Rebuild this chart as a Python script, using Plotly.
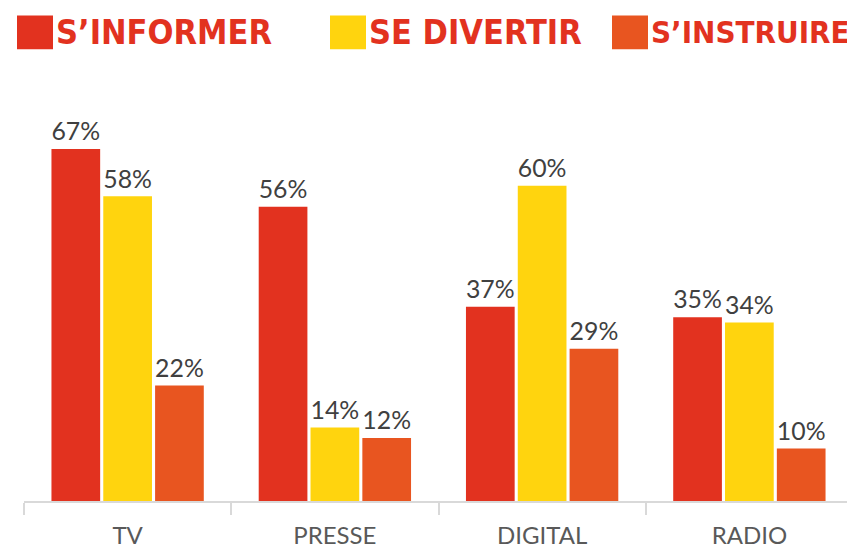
import plotly.graph_objects as go

categories = ["TV", "PRESSE", "DIGITAL", "RADIO"]
series_names = ["S\u2019INFORMER", "SE DIVERTIR", "S\u2019INSTRUIRE"]
s_informer = [67, 56, 37, 35]
se_divertir = [58, 14, 60, 34]
s_instruire = [22, 12, 29, 10]
series_values = [s_informer, se_divertir, s_instruire]
colors = ["#E2321F", "#FFD40E", "#E85520"]

OFF = 8  # page body margin
W, H = 855 - OFF, 551 - OFF
ML, MR, MT, MB = 24 - OFF, 2, 107 - OFF, 48
PW, PH = W - ML - MR, H - MT - MB


def px_x(p):
    return (p - OFF - ML) / PW


def px_y(p):
    return (H - MB - (p - OFF)) / PH


fig = go.Figure()
for name, vals, col in zip(series_names, series_values, colors):
    fig.add_trace(go.Bar(
        x=categories, y=vals, name=name,
        marker=dict(color=col, line=dict(width=0)),
        text=[f"{v}%" for v in vals], textposition="outside",
        textfont=dict(family="Lato, sans-serif", size=26, color="#404040"),
        cliponaxis=False, showlegend=False,
    ))

# manual legend (large squares + bold condensed text)
leg_sq_x = [17, 330, 612]
leg_sizes = [34, 34, 31]
for name, col, sx, fs in zip(series_names, colors, leg_sq_x, leg_sizes):
    fig.add_shape(type="rect", xref="paper", yref="paper",
                  x0=px_x(sx), x1=px_x(sx + 36), y0=px_y(49), y1=px_y(15),
                  fillcolor=col, line=dict(width=0))
    fig.add_annotation(xref="paper", yref="paper", x=px_x(sx + 37), y=px_y(32),
                       xanchor="left", yanchor="middle", showarrow=False,
                       text=f"<b>{name}</b>",
                       font=dict(family="DejaVu Sans Condensed, sans-serif",
                                 size=fs, color="#E2321F"))

fig.update_layout(
    width=W, height=H,
    margin=dict(l=ML, r=MR, t=MT, b=MB),
    paper_bgcolor="white", plot_bgcolor="white",
    barmode="group", bargap=0.25, bargroupgap=0.06,
    xaxis=dict(showline=True, linecolor="#D9D9D9", linewidth=2,
               ticks="outside", tickson="boundaries", ticklen=12,
               tickcolor="#D9D9D9", tickwidth=1.5, ticklabelstandoff=12,
               tickfont=dict(family="Lato, sans-serif", size=24, color="#595959"),
               showgrid=False),
    yaxis=dict(range=[0, 75], visible=False, showgrid=False),
)

fig.write_html("out.html")
